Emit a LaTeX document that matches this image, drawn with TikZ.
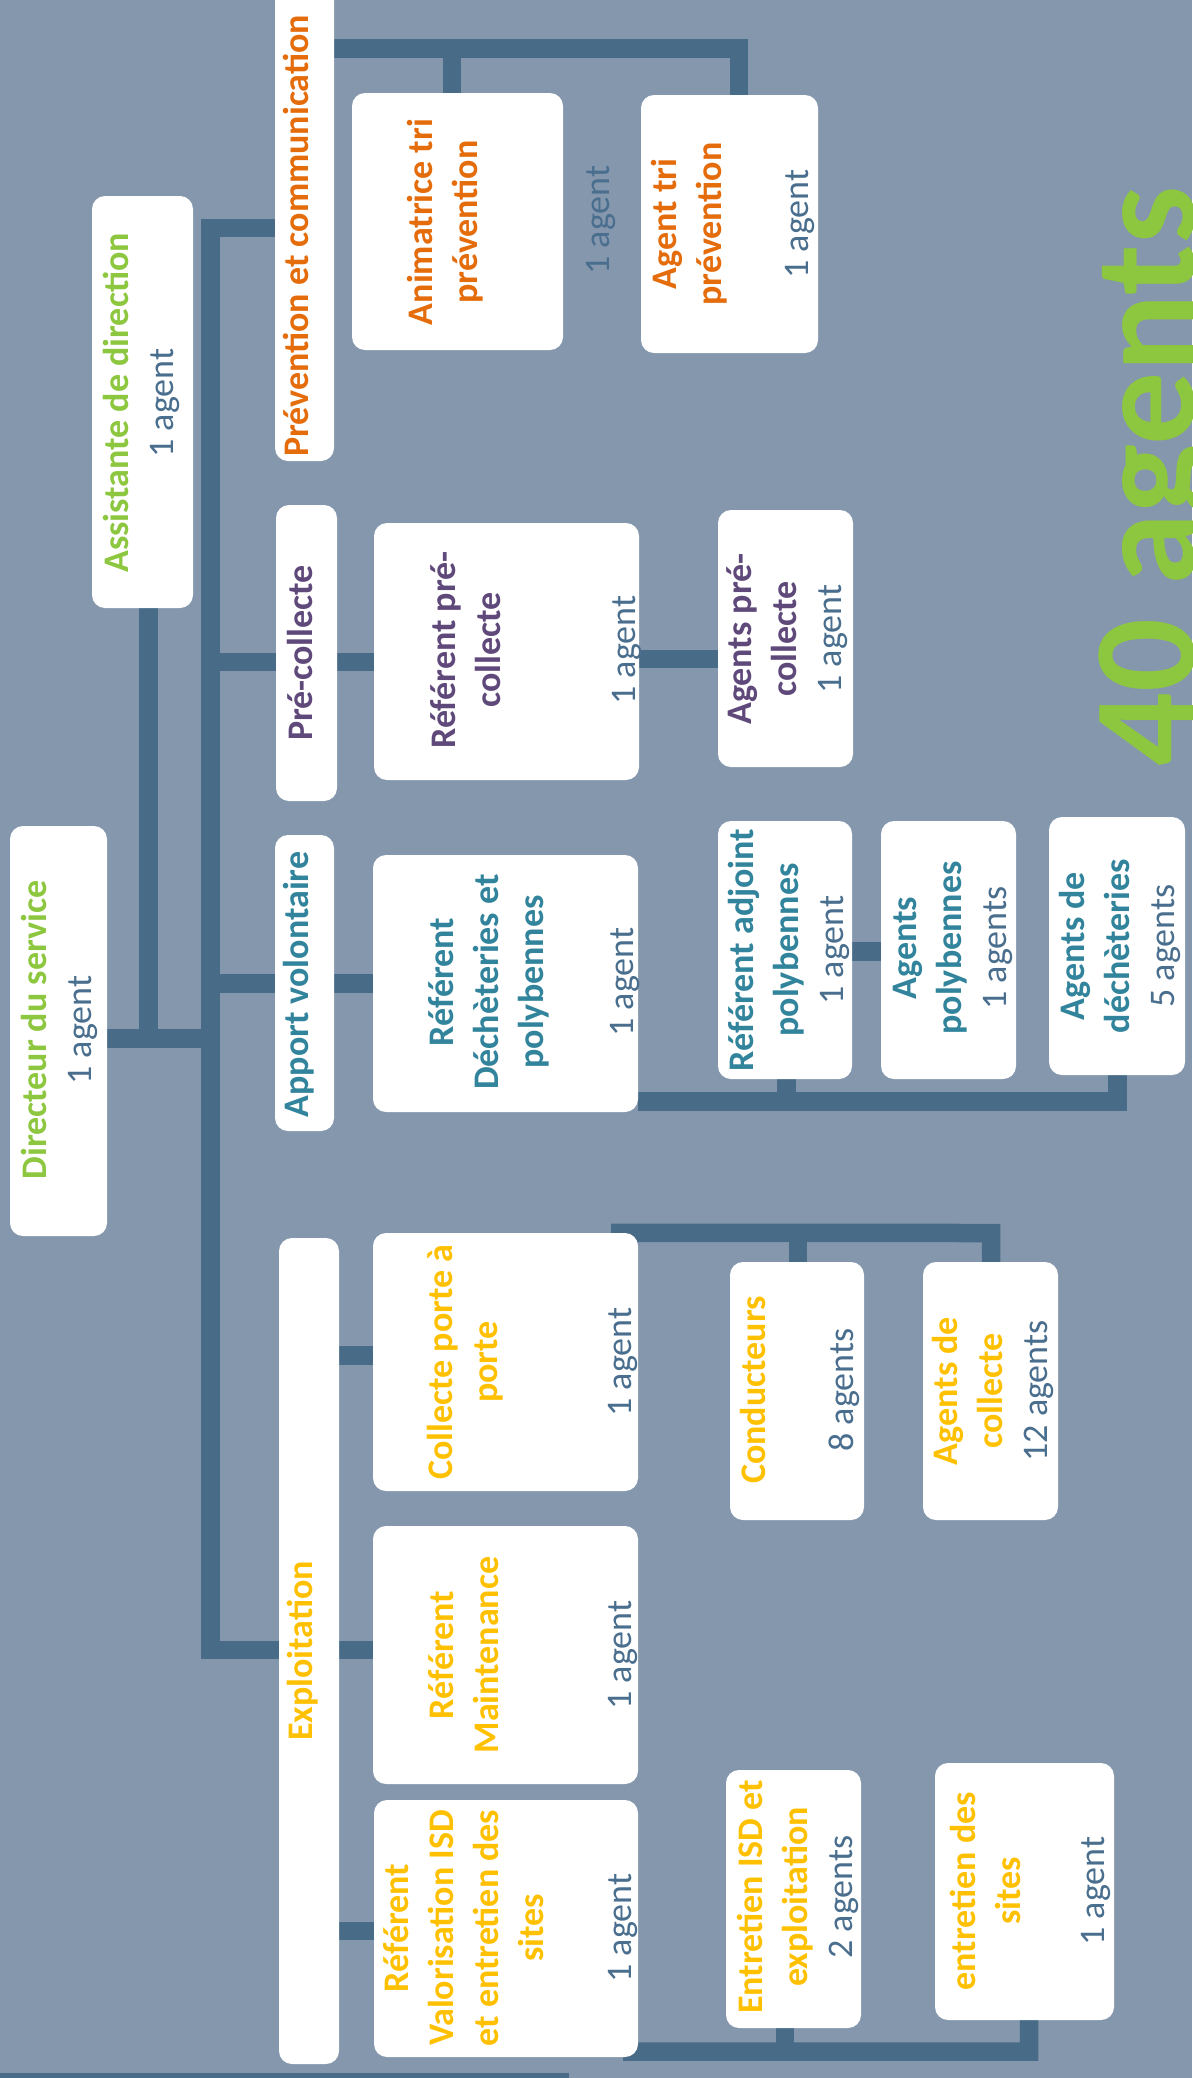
\documentclass[tikz,border=0pt]{standalone}
\usepackage{fontspec}
\setmainfont{Carlito}
\usetikzlibrary{calc}
\definecolor{bgc}{HTML}{8597AD}
\definecolor{conncol}{HTML}{486B87}
\definecolor{cgreen}{HTML}{8DC63F}
\definecolor{corange}{HTML}{E46C0A}
\definecolor{cpurple}{HTML}{5F497A}
\definecolor{cteal}{HTML}{31849B}
\definecolor{cyellow}{HTML}{FFC000}
\definecolor{cagent}{HTML}{4A6E8E}
\pgfdeclarelayer{back}
\pgfsetlayers{back,main}
\newcommand\tgreen[1]{\textcolor{cgreen}{\bfseries #1}}
\newcommand\torange[1]{\textcolor{corange}{\bfseries #1}}
\newcommand\tpurple[1]{\textcolor{cpurple}{\bfseries #1}}
\newcommand\tteal[1]{\textcolor{cteal}{\bfseries #1}}
\newcommand\tyellow[1]{\textcolor{cyellow}{\bfseries #1}}
\newcommand\tcount[1]{\textcolor{cagent}{#1}}
\newcommand\trows[1]{\begin{tabular}[t]{@{}c@{}}#1\end{tabular}}
\newcommand\mkbox[5]{\node[box, minimum width={(#4)-(#2)}, minimum height={(#5)-(#3)}] (#1) at ({((#2)+(#4))/2},{-((#3)+(#5))/2}) {};}
\tikzset{
  box/.style={fill=white, rounded corners=13pt, inner sep=0pt, draw=none},
  conn/.style={draw=conncol, line width=18.5pt},
  txt/.style={rotate=90, inner sep=0pt, anchor=base, font=\fontsize{36}{45}\selectfont},
}
\begin{document}
\begin{tikzpicture}[x=1pt,y=1pt]
\useasboundingbox (0,0) rectangle (1192,-2078);

% ---------- boxes ----------
\mkbox{dir}{10}{826}{107}{1236}
\mkbox{asst}{92}{196}{193}{608}
\mkbox{prev}{275}{-30}{334}{461}
\mkbox{prec}{276}{505}{337}{801}
\mkbox{appo}{275}{835}{334}{1131}
\mkbox{expl}{279}{1238}{339}{2064}
\mkbox{anim}{352}{93}{563}{350}
\mkbox{agtri}{641}{95}{818}{353}
\mkbox{refprec}{374}{523}{639}{780}
\mkbox{agprec}{718}{510}{853}{767}
\mkbox{dech}{373}{855}{638}{1112}
\mkbox{refadj}{718}{821}{852}{1079}
\mkbox{agpoly}{881}{821}{1016}{1079}
\mkbox{agdech}{1049}{817}{1185}{1075}
\mkbox{colp}{373}{1233}{638}{1491}
\mkbox{cond}{730}{1262}{864}{1520}
\mkbox{agcol}{923}{1262}{1058}{1520}
\mkbox{maint}{373}{1526}{638}{1784}
\mkbox{valo}{374}{1800}{638}{2057}
\mkbox{entisd}{726}{1770}{861}{2028}
\mkbox{entsites}{935}{1763}{1114}{2020}

% ---------- texts ----------
\node[txt] (dirt) at (46,-1030) {\trows{\tgreen{Directeur du service}\\\tcount{1 agent}}};
\node[txt] (asstt) at (128,-403) {\trows{\tgreen{Assistante de direction}\\\tcount{1 agent}}};
\node[txt, anchor=base west] (prevt) at (308,-457) {\torange{Prévention et communication}};
\node[txt] (prect) at (312,-653) {\tpurple{Pré-collecte}};
\node[txt] (appot) at (308,-984.5) {\tteal{Apport volontaire}};
\node[txt] (explt) at (312,-1651) {\tyellow{Exploitation}};
\node[txt] (animt) at (432,-222) {\trows{\torange{Animatrice tri}\\\torange{prévention}}};
\node[txt] (animc) at (609,-220) {\tcount{1 agent}};
\node[txt] (agtrit) at (676,-224) {\trows{\torange{Agent tri}\\\torange{prévention}\\[42pt]\tcount{1 agent}}};
\node[txt] (refprect) at (455,-650) {\trows{\tpurple{Référent pré-}\\\tpurple{collecte}\\[90pt]\tcount{1 agent}}};
\node[txt] (agprect) at (751,-639) {\trows{\tpurple{Agents pré-}\\\tpurple{collecte}\\\tcount{1 agent}}};
\node[txt] (decht) at (453,-982) {\trows{\tteal{Référent}\\\tteal{Déchèteries et}\\\tteal{polybennes}\\[45pt]\tcount{1 agent}}};
\node[txt] (refadjt) at (753,-950) {\trows{\tteal{Référent adjoint}\\\tteal{polybennes}\\\tcount{1 agent}}};
\node[txt] (agpolyt) at (916,-948) {\trows{\tteal{Agents}\\\tteal{polybennes}\\\tcount{1 agents}}};
\node[txt] (agdecht) at (1084,-946) {\trows{\tteal{Agents de}\\\tteal{déchèteries}\\\tcount{5 agents}}};
\node[txt] (colpt) at (452,-1362) {\trows{\tyellow{Collecte porte à}\\\tyellow{porte}\\[89pt]\tcount{1 agent}}};
\node[txt] (condt) at (765,-1390) {\trows{\tyellow{Conducteurs}\\[43pt]\tcount{8 agents}}};
\node[txt] (agcolt) at (957,-1391) {\trows{\tyellow{Agents de}\\\tyellow{collecte}\\\tcount{12 agents}}};
\node[txt] (maintt) at (453,-1655) {\trows{\tyellow{Référent}\\\tyellow{Maintenance}\\[88pt]\tcount{1 agent}}};
\node[txt] (valot) at (408,-1928) {\trows{\tyellow{Référent}\\\tyellow{Valorisation ISD}\\\tyellow{et entretien des}\\\tyellow{sites}\\[43pt]\tcount{1 agent}}};
\node[txt] (entisdt) at (762,-1897) {\trows{\tyellow{Entretien ISD et}\\\tyellow{exploitation}\\\tcount{2 agents}}};
\node[txt] (entsitest) at (975,-1891) {\trows{\tyellow{entretien des}\\\tyellow{sites}\\[39pt]\tcount{1 agent}}};
\node[rotate=90, anchor=base west, inner sep=0pt, font=\fontsize{146}{150}\selectfont\bfseries, text=cgreen] (total) at (1194,-767) {40 agents};

% ---------- connectors (behind boxes) ----------
\begin{pgfonlayer}{back}
\fill[bgc] (0,0) rectangle (1192,-2078);
\coordinate (jPrev) at (210.5,-228);
\coordinate (jPrec) at (210.5,-662);
\coordinate (jAppo) at (210.5,-983.5);
\coordinate (jDir) at (210.5,-1038.5);
\coordinate (jExpl) at (210.5,-1650);
\coordinate (jAsst) at (148.5,-1038.5);
\coordinate (jColp) at (356,-1355.5);
\coordinate (jValo) at (356,-1931);
\coordinate (tA) at (452,-48.5);
\coordinate (tB) at (739,-48.5);
\coordinate (jRP) at (678,-659);
\coordinate (jDa) at (786.5,-1101.5);
\coordinate (jDb) at (1117.5,-1101.5);
\coordinate (jRA) at (866,-951.5);
\coordinate (jCa) at (798,-1233);
\coordinate (jCb) at (991,-1233);
\coordinate (jVa) at (785,-2051.5);
\coordinate (jVb) at (1029,-2051.5);
\coordinate (bl0) at (-10,-2082);
\coordinate (bl1) at (569,-2082);

\draw[conn] (prev.west |- jPrev) -- (jPrev) -- (jExpl) -- (expl.west |- jExpl);
\draw[conn] (jPrec) -- (prec.west |- jPrec);
\draw[conn] (prec.east |- jPrec) -- (refprec.west |- jPrec);
\draw[conn] (jAppo) -- (appo.west |- jAppo);
\draw[conn] (appo.east |- jAppo) -- (dech.west |- jAppo);
\draw[conn] (dir.east |- jDir) -- (jDir);
\draw[conn] (asst.south -| jAsst) -- (jAsst);
\draw[conn] (expl.east |- jExpl) -- (maint.west |- jExpl);
\draw[conn] (expl.east |- jColp) -- (colp.west |- jColp);
\draw[conn] (expl.east |- jValo) -- (valo.west |- jValo);
\draw[conn] (prev.east |- tB) -- (tB) -- (agtri.north -| tB);
\draw[conn] (tA) -- (anim.north -| tA);
\draw[conn] (refprec.east |- jRP) -- (agprec.west |- jRP);
\draw[conn] (dech.east |- jDb) -- (jDb) -- (agdech.south -| jDb);
\draw[conn] (jDa) -- (refadj.south -| jDa);
\draw[conn] (refadj.east |- jRA) -- (agpoly.west |- jRA);
\draw[conn] ([xshift=-27pt]colp.north east) -- (jCb) -- (agcol.north -| jCb);
\draw[conn] (jCa) -- (cond.north -| jCa);
\draw[conn] ([xshift=-15pt,yshift=5.5pt]valo.south east) -- (jVb) -- (entsites.south -| jVb);
\draw[conn] (jVa) -- (entisd.south -| jVa);
\draw[conn] (bl0) -- (bl1);
\end{pgfonlayer}
\end{tikzpicture}
\end{document}
